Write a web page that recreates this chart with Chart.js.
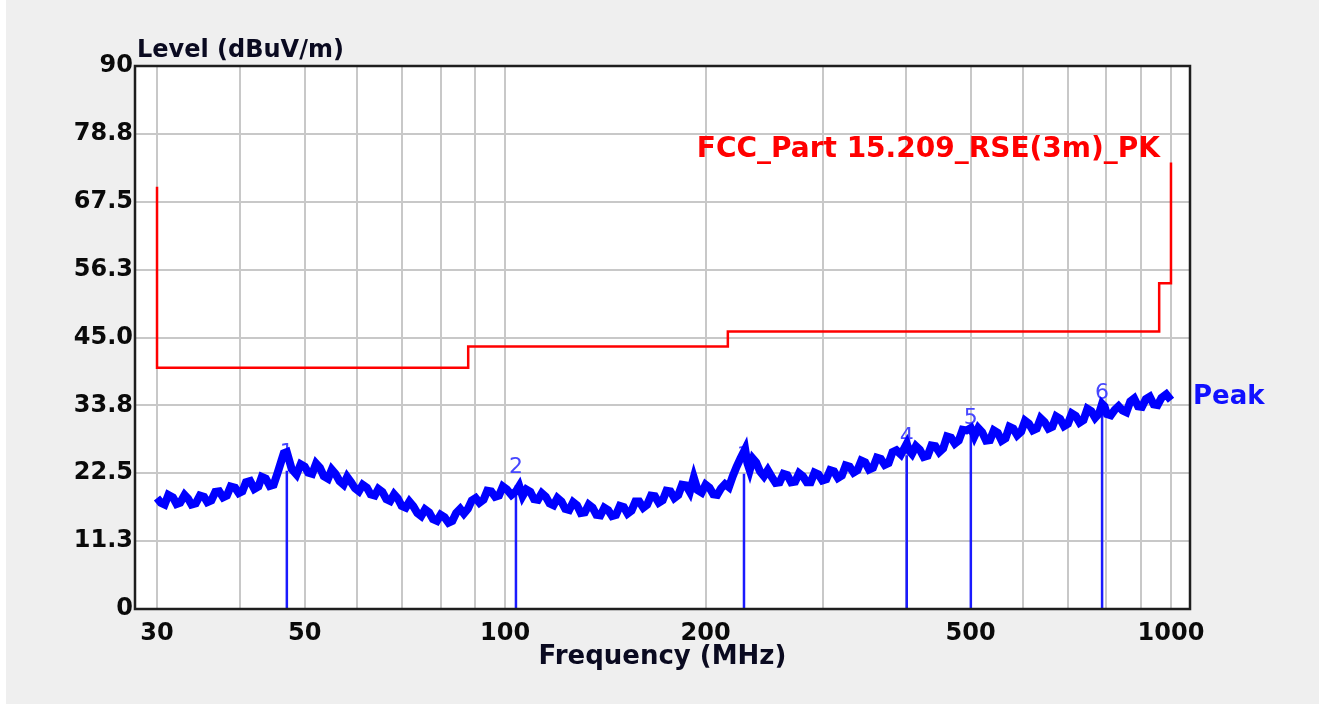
<!DOCTYPE html>
<html>
<head>
<meta charset="utf-8">
<script src="https://cdn.jsdelivr.net/npm/chart.js@4.4.1/dist/chart.umd.min.js"></script>
<style>
  html, body { margin: 0; padding: 0; background: #ffffff; }
  #wrap { position: absolute; left: 6px; top: 0; width: 1313px; height: 704px; background: #efefef; }
</style>
</head>
<body>
<div id="wrap"><canvas id="emi" width="1313" height="704"></canvas></div>
<script>
// peak trace (MHz / dBuV/m)
const traceFreqs = [30, 30.4, 30.8, 31.2, 31.7, 32.1, 32.5, 33.0, 33.4, 33.8, 34.3, 34.8, 35.3, 35.7, 36.2, 36.7,
  37.2, 37.7, 38.2, 38.7, 39.3, 39.8, 40.3, 40.8, 41.4, 42.0, 42.6, 43.1, 43.7, 44.3, 44.9, 45.5, 46.1, 46.5, 47.0,
  47.8, 48.6, 49.3, 50, 50.6, 51.3, 52.0, 52.7, 53.4, 54.2, 54.9, 55.6, 56.4, 57.2, 57.9, 58.7, 59.5, 60.3, 61.1,
  62, 62.8, 63.7, 64.5, 65.4, 66.3, 67.2, 68.1, 69, 69.9, 70.9, 71.8, 72.8, 73.8, 74.8, 75.8, 76.9, 77.9, 79, 80.0,
  81.1, 82.2, 83.3, 84.4, 85.6, 86.7, 87.9, 89.1, 90.3, 91.5, 92.8, 94.0, 95.3, 96.6, 97.9, 99.2, 100.6, 102.2,
  103.8, 105.0, 106.2, 107.6, 109.1, 110.5, 112, 113.5, 115.1, 116.6, 118.2, 119.8, 121.5, 123.1, 124.8, 126.5,
  128.2, 129.9, 131.7, 133.5, 135.3, 137.1, 139, 140.9, 142.8, 144.7, 146.7, 148.7, 150.7, 152.7, 154.8, 156.9,
  159, 161.2, 163.4, 165.6, 167.8, 170.1, 172.4, 174.7, 177.1, 179.5, 182, 184.4, 186.9, 189.4, 192, 194.6, 197.3,
  200.0, 202.7, 205.4, 208.2, 211.0, 213.9, 216.8, 219.7, 222.7, 225.7, 229.3, 231.1, 233, 235.6, 238.2, 241.4,
  244.7, 248.0, 251.4, 254.8, 258.3, 261.8, 265.3, 268.9, 272.6, 276.3, 280, 283.8, 287.6, 291.5, 295.5, 299.5,
  303.6, 307.7, 311.8, 316.1, 320.4, 324.7, 329.1, 333.6, 338.1, 342.7, 347.3, 352.0, 356.8, 361.7, 366.6, 371.6,
  376.6, 381.7, 386.9, 393.0, 401.0, 404.6, 408.3, 413.9, 419.5, 425.2, 431, 436.8, 442.7, 448.7, 454.8, 461.0,
  467.3, 473.6, 480, 486.5, 493.1, 500.5, 506.6, 513.5, 520.5, 527.6, 534.7, 541.9, 549.3, 556.8, 564.3, 572.0,
  579.7, 587.6, 595.6, 603.7, 611.9, 620.2, 628.6, 637.2, 645.8, 654.6, 663.4, 672.4, 681.5, 690.8, 700.2, 709.7,
  719.3, 729.1, 738.9, 749.0, 759.1, 769.4, 779.9, 788, 794.6, 801.2, 812.1, 823.1, 834.3, 845.6, 857.1, 868.7,
  880.5, 892.4, 904.5, 916.8, 929.3, 941.9, 954.7, 967.6, 983.8, 1000];
const traceLevels = [18.4, 17.6, 17.3, 18.9, 18.5, 17.4, 17.6, 18.9, 18.3, 17.3, 17.5, 18.8, 18.6, 17.7, 18.0, 19.4,
  19.5, 18.5, 18.8, 20.3, 20.1, 19.2, 19.5, 21.0, 21.2, 19.9, 20.3, 21.9, 21.6, 20.4, 20.6, 22.5, 24.5, 25.8, 26.0,
  23.2, 22.3, 24.0, 23.6, 22.6, 22.4, 24.1, 23.4, 22.0, 21.6, 23.1, 22.4, 21.2, 20.6, 21.9, 21.0, 20.0, 19.5, 20.6,
  20.1, 19.0, 18.8, 19.9, 19.4, 18.2, 17.9, 19.0, 18.3, 17.1, 16.8, 17.8, 17.0, 15.9, 15.4, 16.5, 16.0, 14.9, 14.6, 15.6,
  15.2, 14.3, 14.6, 15.9, 16.6, 15.8, 16.6, 18.0, 18.4, 17.6, 18.1, 19.6, 19.5, 18.6, 18.8, 20.3, 19.8, 18.9,
  19.5, 20.4, 18.7, 19.8, 19.4, 18.2, 18.1, 19.2, 18.6, 17.5, 17.2, 18.4, 17.8, 16.6, 16.4, 17.7,
  17.2, 15.9, 16.0, 17.3, 16.8, 15.6, 15.5, 16.8, 16.4, 15.4, 15.6, 17.1, 16.9, 15.8, 16.3, 17.8,
  17.8, 16.8, 17.3, 18.8, 18.7, 17.6, 18.0, 19.6, 19.5, 18.4, 18.9, 20.6, 20.5, 19.4, 21.8, 19.7, 19.3,
  20.6, 20.1, 19.0, 18.9, 20.0, 20.7, 20.2, 22.0, 23.6, 25.0, 26.5, 24.2, 23.0, 24.9, 24.3, 22.8,
  22.0, 23.0, 21.9, 20.9, 21.0, 22.4, 22.2, 21.0, 21.1, 22.5, 22.0, 21.0, 21.0, 22.6, 22.3, 21.3,
  21.5, 23.0, 22.8, 21.7, 22.1, 23.8, 23.6, 22.6, 23.0, 24.6, 24.3, 23.1, 23.4, 25.1, 24.9, 23.9,
  24.2, 26.0, 26.3, 25.6, 27.4, 26.2, 25.7, 27.0, 26.4, 25.2, 25.4, 27.1, 27.0, 26.0, 26.6, 28.6,
  28.4, 27.4, 27.9, 29.7, 29.6, 30.0, 28.6, 30.0, 29.3, 27.9, 28.0, 29.6, 29.2, 27.9, 28.3, 30.2,
  29.9, 28.8, 29.4, 31.2, 30.7, 29.6, 29.9, 31.6, 31.0, 29.9, 30.2, 31.9, 31.5, 30.3, 30.7, 32.4,
  32.0, 30.9, 31.3, 33.2, 32.8, 31.7, 32.4, 34.0, 33.6, 32.3, 32.1, 33.0, 33.6, 32.9, 32.6, 34.4,
  34.9, 33.6, 33.5, 34.8, 35.2, 33.9, 33.8, 35.0, 35.6, 34.6];

// FCC Part 15.209 peak limit (stepped)
const limitFreqs = [30, 30, 88, 88, 216, 216, 960, 960, 1000, 1000];
const limitLevels = [70, 40, 40, 43.5, 43.5, 46, 46, 54, 54, 74];

// markers
const markerNames = ['1', '2', '3', '4', '5', '6'];
const markerFreqs = [47.0, 103.8, 228.4, 401.0, 500.5, 788.0];
const markerLevels = [22.9, 20.5, 22.4, 25.5, 28.7, 32.7];

// axes
const xGridValues = [30, 40, 50, 60, 70, 80, 90, 100, 200, 300, 400, 500, 600, 700, 800, 900, 1000];
const xTickValues = [30, 50, 100, 200, 500, 1000];
const xTickLabels = ['30', '50', '100', '200', '500', '1000'];
const yTickLabels = ['0', '11.3', '22.5', '33.8', '45.0', '56.3', '67.5', '78.8', '90'];

const BOLD = 'DejaVu Sans';

const markerData = [];
markerFreqs.forEach((f, i) => {
  markerData.push({ x: f, y: 0 }, { x: f, y: markerLevels[i] }, { x: f, y: null });
});

const plotDecor = {
  id: 'plotDecor',
  beforeDraw(chart) {
    const { ctx, chartArea: a } = chart;
    ctx.save();
    ctx.fillStyle = '#ffffff';
    ctx.fillRect(a.left, a.top, a.right - a.left, a.bottom - a.top);
    ctx.restore();
  },
  beforeDatasetsDraw(chart) {
    const { ctx, scales } = chart;
    ctx.save();
    ctx.font = '22px "DejaVu Sans"';
    ctx.fillStyle = '#4646ff';
    ctx.textAlign = 'center';
    ctx.textBaseline = 'middle';
    markerFreqs.forEach((f, i) => {
      const px = scales.x.getPixelForValue(f);
      const py = scales.y.getPixelForValue(markerLevels[i]);
      ctx.fillText(markerNames[i], px, py - 18);
    });
    ctx.restore();
  },
  afterDraw(chart) {
    const { ctx, chartArea: a, scales } = chart;
    ctx.save();
    ctx.strokeStyle = '#1e1e1e';
    ctx.lineWidth = 2.5;
    ctx.strokeRect(a.left, a.top, a.right - a.left, a.bottom - a.top);

    ctx.fillStyle = '#0a0a20';
    ctx.font = 'bold 24px "' + BOLD + '"';
    ctx.textAlign = 'left';
    ctx.textBaseline = 'alphabetic';
    ctx.fillText('Level (dBuV/m)', a.left + 2, a.top - 9);

    ctx.fillStyle = '#ff0000';
    ctx.font = 'bold 28px "' + BOLD + '"';
    ctx.textAlign = 'right';
    ctx.fillText('FCC_Part 15.209_RSE(3m)_PK', a.right - 30, 157);

    ctx.fillStyle = '#1010ff';
    ctx.font = 'bold 26px "' + BOLD + '"';
    ctx.textAlign = 'left';
    const lastY = scales.y.getPixelForValue(traceLevels[traceLevels.length - 1]);
    ctx.fillText('Peak', a.right + 3, lastY + 4);
    ctx.restore();
  }
};

new Chart(document.getElementById('emi'), {
  type: 'line',
  data: {
    datasets: [
      {
        label: 'Peak',
        data: traceFreqs.map((f, i) => ({ x: f, y: traceLevels[i] })),
        borderColor: '#0000ff',
        borderWidth: 8,
        borderJoinStyle: 'miter',
        pointRadius: 0,
        tension: 0
      },
      {
        label: 'Markers',
        data: markerData,
        borderColor: '#1a1aff',
        borderWidth: 2.5,
        pointRadius: 0,
        spanGaps: false
      },
      {
        label: 'Limit',
        data: limitFreqs.map((f, i) => ({ x: f, y: limitLevels[i] })),
        borderColor: '#ff0000',
        borderWidth: 2.5,
        pointRadius: 0,
        tension: 0
      }
    ]
  },
  options: {
    responsive: false,
    animation: false,
    devicePixelRatio: 1,
    layout: { padding: { left: 0, top: 66, right: 129, bottom: 0 } },
    plugins: { legend: { display: false }, tooltip: { enabled: false } },
    scales: {
      x: {
        type: 'logarithmic',
        min: 27.8,
        max: 1068,
        afterBuildTicks: s => { s.ticks = xGridValues.map(v => ({ value: v })); },
        afterFit: s => { s.height = 95; },
        grid: { color: '#c8c8c8', lineWidth: 2, drawTicks: false },
        border: { display: false },
        ticks: {
          autoSkip: false,
          maxRotation: 0,
          padding: 10,
          color: '#0a0a0a',
          font: { family: BOLD, size: 24, weight: 'bold' },
          callback: v => {
            const k = xTickValues.indexOf(v);
            return k >= 0 ? xTickLabels[k] : '';
          }
        },
        title: {
          display: true,
          text: 'Frequency (MHz)',
          color: '#0a0a20',
          font: { family: BOLD, size: 26, weight: 'bold' },
          padding: { top: 0, bottom: 31 }
        }
      },
      y: {
        min: 0,
        max: 90,
        afterFit: s => { s.width = 129; },
        grid: { color: '#c8c8c8', lineWidth: 2, drawTicks: false },
        border: { display: false },
        ticks: {
          stepSize: 11.25,
          padding: 2,
          color: '#0a0a0a',
          font: { family: BOLD, size: 24, weight: 'bold' },
          callback: (v, i) => yTickLabels[i]
        }
      }
    }
  },
  plugins: [plotDecor]
});
</script>
</body>
</html>
